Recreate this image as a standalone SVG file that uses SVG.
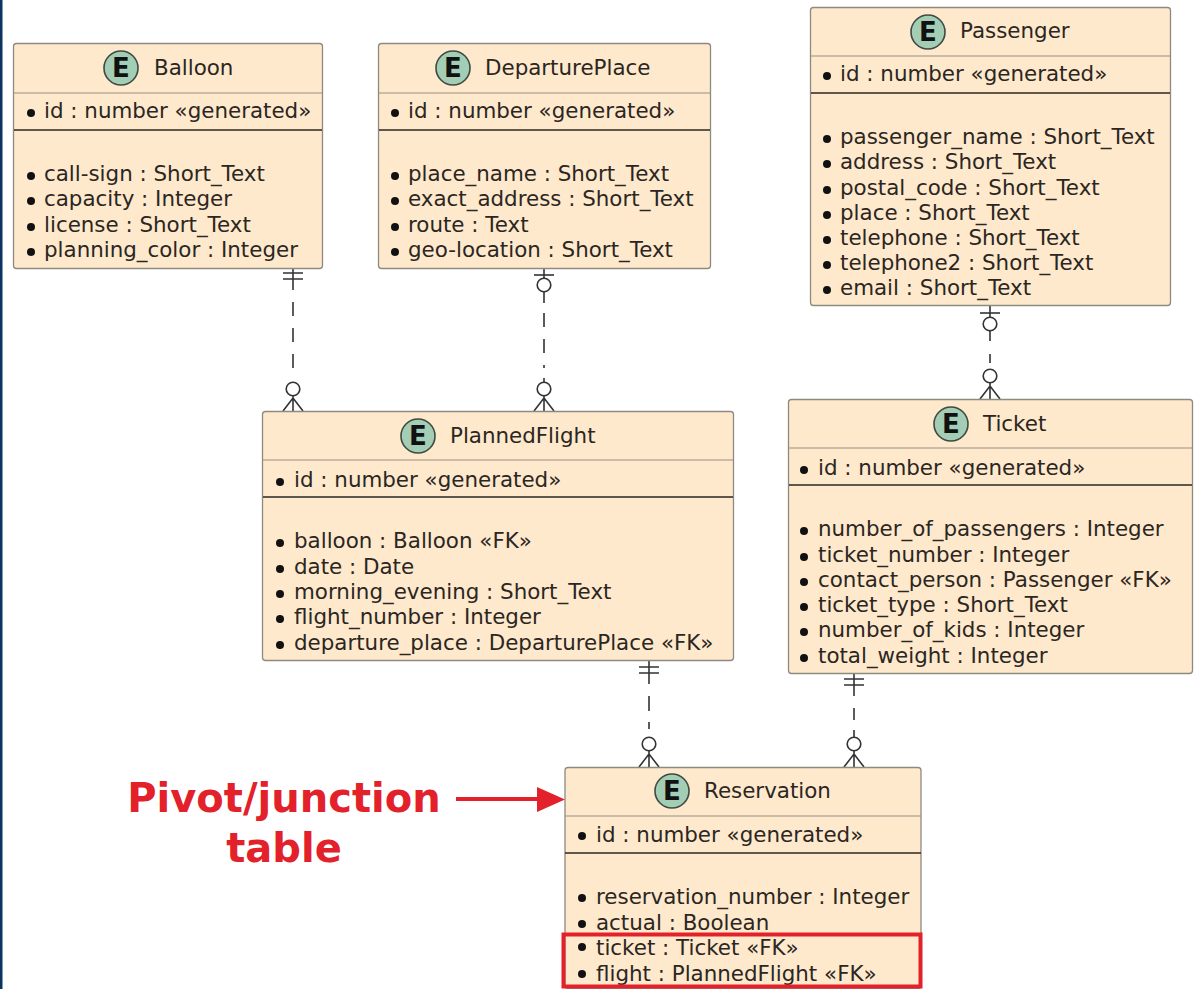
<svg xmlns="http://www.w3.org/2000/svg" width="1194" height="989" viewBox="0 0 1194 989">
<style>
text{font-family:"DejaVu Sans",Verdana,sans-serif;fill:#2b2622}
.t{font-size:21.4px}
.f{font-size:21.4px}
.box{fill:#fee9cd;stroke:#8f8a80;stroke-width:1.3}
.d1{stroke:#9a9082;stroke-width:1.2}
.d2{stroke:#2a2520;stroke-width:1.6}
.ic{fill:#a3cdb4;stroke:#3f4a42;stroke-width:1.6}
.e{font-size:26px;font-weight:bold;text-anchor:middle;fill:#111}
.b{fill:#111}
.c{fill:none;stroke:#333;stroke-width:1.6}
.dash{stroke-dasharray:14 12}
.red{fill:#e3212b}
text.lab{font-size:40px;font-weight:bold;fill:#e3212b;text-anchor:middle}
</style>
<rect width="1194" height="989" fill="#fff"/>
<rect x="0" y="0" width="2.5" height="989" fill="#0b3560"/>
<g id="connectors">
<g id="c1" class="c"><path d="M293 268V290"/><path d="M283 273H303M283 279H303"/><path class="dash" d="M293 302V380"/><circle cx="293" cy="389" r="6.8"/><path d="M293 396V411M283 411L293 398L303 411"/></g>
<g id="c2" class="c"><path d="M544 268V278"/><path d="M534 275H554"/><circle cx="544" cy="285" r="6.8"/><path d="M544 292V303"/><path class="dash" d="M544 313V368"/><path d="M544 378V382"/><circle cx="544" cy="389" r="6.8"/><path d="M544 396V411M534 411L544 398L554 411"/></g>
<g id="c3" class="c"><path d="M990 305V317"/><path d="M980 313H1000"/><circle cx="990" cy="324" r="6.8"/><path d="M990 331V341M990 354V363"/><circle cx="990" cy="376" r="6.8"/><path d="M990 383V399M980 399L990 386L1000 399"/></g>
<g id="c4" class="c"><path d="M649 660V684"/><path d="M639 667H659M639 673H659"/><path d="M649 696V711M649 722V729"/><circle cx="649" cy="744" r="6.8"/><path d="M649 751V767M639 767L649 754L659 767"/></g>
<g id="c5" class="c"><path d="M854 673V696"/><path d="M844 679H864M844 685H864"/><path d="M854 708V720M854 730V737"/><circle cx="854" cy="744" r="6.8"/><path d="M854 751V767M844 767L854 754L864 767"/></g>
</g>
<g id="balloon">
<rect class="box" x="13.5" y="43.5" width="309" height="225" rx="3"/>
<path class="d1" d="M14 93H322"/><path class="d2" d="M14 130H322"/>
<circle class="ic" cx="121" cy="68" r="17"/><text class="e" x="121" y="77">E</text>
<text class="t" x="154" y="75">Balloon</text>
<circle class="b" cx="31" cy="113" r="4"/><text class="f" x="44" y="118">id : number «generated»</text>
<circle class="b" cx="31" cy="176" r="4"/><text class="f" x="44" y="181">call-sign : Short_Text</text>
<circle class="b" cx="31" cy="201" r="4"/><text class="f" x="44" y="206">capacity : Integer</text>
<circle class="b" cx="31" cy="227" r="4"/><text class="f" x="44" y="232">license : Short_Text</text>
<circle class="b" cx="31" cy="252" r="4"/><text class="f" x="44" y="257">planning_color : Integer</text>
</g>
<g id="departureplace">
<rect class="box" x="378.5" y="43.5" width="332" height="225" rx="3"/>
<path class="d1" d="M379 93H710"/><path class="d2" d="M379 130H710"/>
<circle class="ic" cx="453" cy="68" r="17"/><text class="e" x="453" y="77">E</text>
<text class="t" x="485" y="75">DeparturePlace</text>
<circle class="b" cx="395" cy="113" r="4"/><text class="f" x="408" y="118">id : number «generated»</text>
<circle class="b" cx="395" cy="176" r="4"/><text class="f" x="408" y="181">place_name : Short_Text</text>
<circle class="b" cx="395" cy="201" r="4"/><text class="f" x="408" y="206">exact_address : Short_Text</text>
<circle class="b" cx="395" cy="227" r="4"/><text class="f" x="408" y="232">route : Text</text>
<circle class="b" cx="395" cy="252" r="4"/><text class="f" x="408" y="257">geo-location : Short_Text</text>
</g>
<g id="passenger">
<rect class="box" x="810.5" y="7.5" width="360" height="298" rx="3"/>
<path class="d1" d="M811 56H1170"/><path class="d2" d="M811 93H1170"/>
<circle class="ic" cx="928" cy="32" r="17"/><text class="e" x="928" y="41">E</text>
<text class="t" x="960" y="38">Passenger</text>
<circle class="b" cx="827" cy="76" r="4"/><text class="f" x="840" y="81">id : number «generated»</text>
<circle class="b" cx="827" cy="139" r="4"/><text class="f" x="840" y="144">passenger_name : Short_Text</text>
<circle class="b" cx="827" cy="164" r="4"/><text class="f" x="840" y="169">address : Short_Text</text>
<circle class="b" cx="827" cy="190" r="4"/><text class="f" x="840" y="195">postal_code : Short_Text</text>
<circle class="b" cx="827" cy="215" r="4"/><text class="f" x="840" y="220">place : Short_Text</text>
<circle class="b" cx="827" cy="240" r="4"/><text class="f" x="840" y="245">telephone : Short_Text</text>
<circle class="b" cx="827" cy="265" r="4"/><text class="f" x="840" y="270">telephone2 : Short_Text</text>
<circle class="b" cx="827" cy="290" r="4"/><text class="f" x="840" y="295">email : Short_Text</text>
</g>
<g id="plannedflight">
<rect class="box" x="262.5" y="411.5" width="471" height="249" rx="3"/>
<path class="d1" d="M263 460H733"/><path class="d2" d="M263 497H733"/>
<circle class="ic" cx="418" cy="436" r="17"/><text class="e" x="418" y="445">E</text>
<text class="t" x="450" y="443">PlannedFlight</text>
<circle class="b" cx="280" cy="482" r="4"/><text class="f" x="294" y="487">id : number «generated»</text>
<circle class="b" cx="280" cy="543" r="4"/><text class="f" x="294" y="548">balloon : Balloon  «FK»</text>
<circle class="b" cx="280" cy="569" r="4"/><text class="f" x="294" y="574">date : Date</text>
<circle class="b" cx="280" cy="594" r="4"/><text class="f" x="294" y="599">morning_evening : Short_Text</text>
<circle class="b" cx="280" cy="619" r="4"/><text class="f" x="294" y="624">flight_number : Integer</text>
<circle class="b" cx="280" cy="645" r="4"/><text class="f" x="294" y="650">departure_place : DeparturePlace  «FK»</text>
</g>
<g id="ticket">
<rect class="box" x="788.5" y="399.5" width="404" height="274" rx="3"/>
<path class="d1" d="M789 448H1192"/><path class="d2" d="M789 485H1192"/>
<circle class="ic" cx="951" cy="424" r="17"/><text class="e" x="951" y="433">E</text>
<text class="t" x="983" y="431">Ticket</text>
<circle class="b" cx="804" cy="470" r="4"/><text class="f" x="818" y="475">id : number «generated»</text>
<circle class="b" cx="804" cy="531" r="4"/><text class="f" x="818" y="536">number_of_passengers : Integer</text>
<circle class="b" cx="804" cy="557" r="4"/><text class="f" x="818" y="562">ticket_number : Integer</text>
<circle class="b" cx="804" cy="582" r="4"/><text class="f" x="818" y="587">contact_person : Passenger  «FK»</text>
<circle class="b" cx="804" cy="607" r="4"/><text class="f" x="818" y="612">ticket_type : Short_Text</text>
<circle class="b" cx="804" cy="632" r="4"/><text class="f" x="818" y="637">number_of_kids : Integer</text>
<circle class="b" cx="804" cy="658" r="4"/><text class="f" x="818" y="663">total_weight : Integer</text>
</g>
<g id="reservation">
<rect class="box" x="565" y="767.5" width="356" height="221" rx="3"/>
<path class="d1" d="M565 816H921"/><path class="d2" d="M565 853H921"/>
<circle class="ic" cx="672" cy="791" r="17"/><text class="e" x="672" y="800">E</text>
<text class="t" x="704" y="798">Reservation</text>
<circle class="b" cx="582" cy="836" r="4"/><text class="f" x="596" y="842">id : number «generated»</text>
<circle class="b" cx="582" cy="898" r="4"/><text class="f" x="596" y="904">reservation_number : Integer</text>
<circle class="b" cx="582" cy="924" r="4"/><text class="f" x="596" y="930">actual : Boolean</text>
<circle class="b" cx="582" cy="947" r="4"/><text class="f" x="596" y="955">ticket : Ticket  «FK»</text>
<circle class="b" cx="582" cy="974" r="4"/><text class="f" x="596" y="981">flight : PlannedFlight  «FK»</text>
</g>
<g id="annotation">
<text class="lab" x="284" y="812">Pivot/junction</text>
<text class="lab" x="284" y="862">table</text>
<rect class="red" x="456" y="797" width="84" height="4"/>
<path class="red" d="M537 787L565 799.500L537 812Z"/>
<rect x="563.500" y="934.500" width="357" height="52" fill="none" stroke="#e3212b" stroke-width="4"/>
</g>
</svg>
